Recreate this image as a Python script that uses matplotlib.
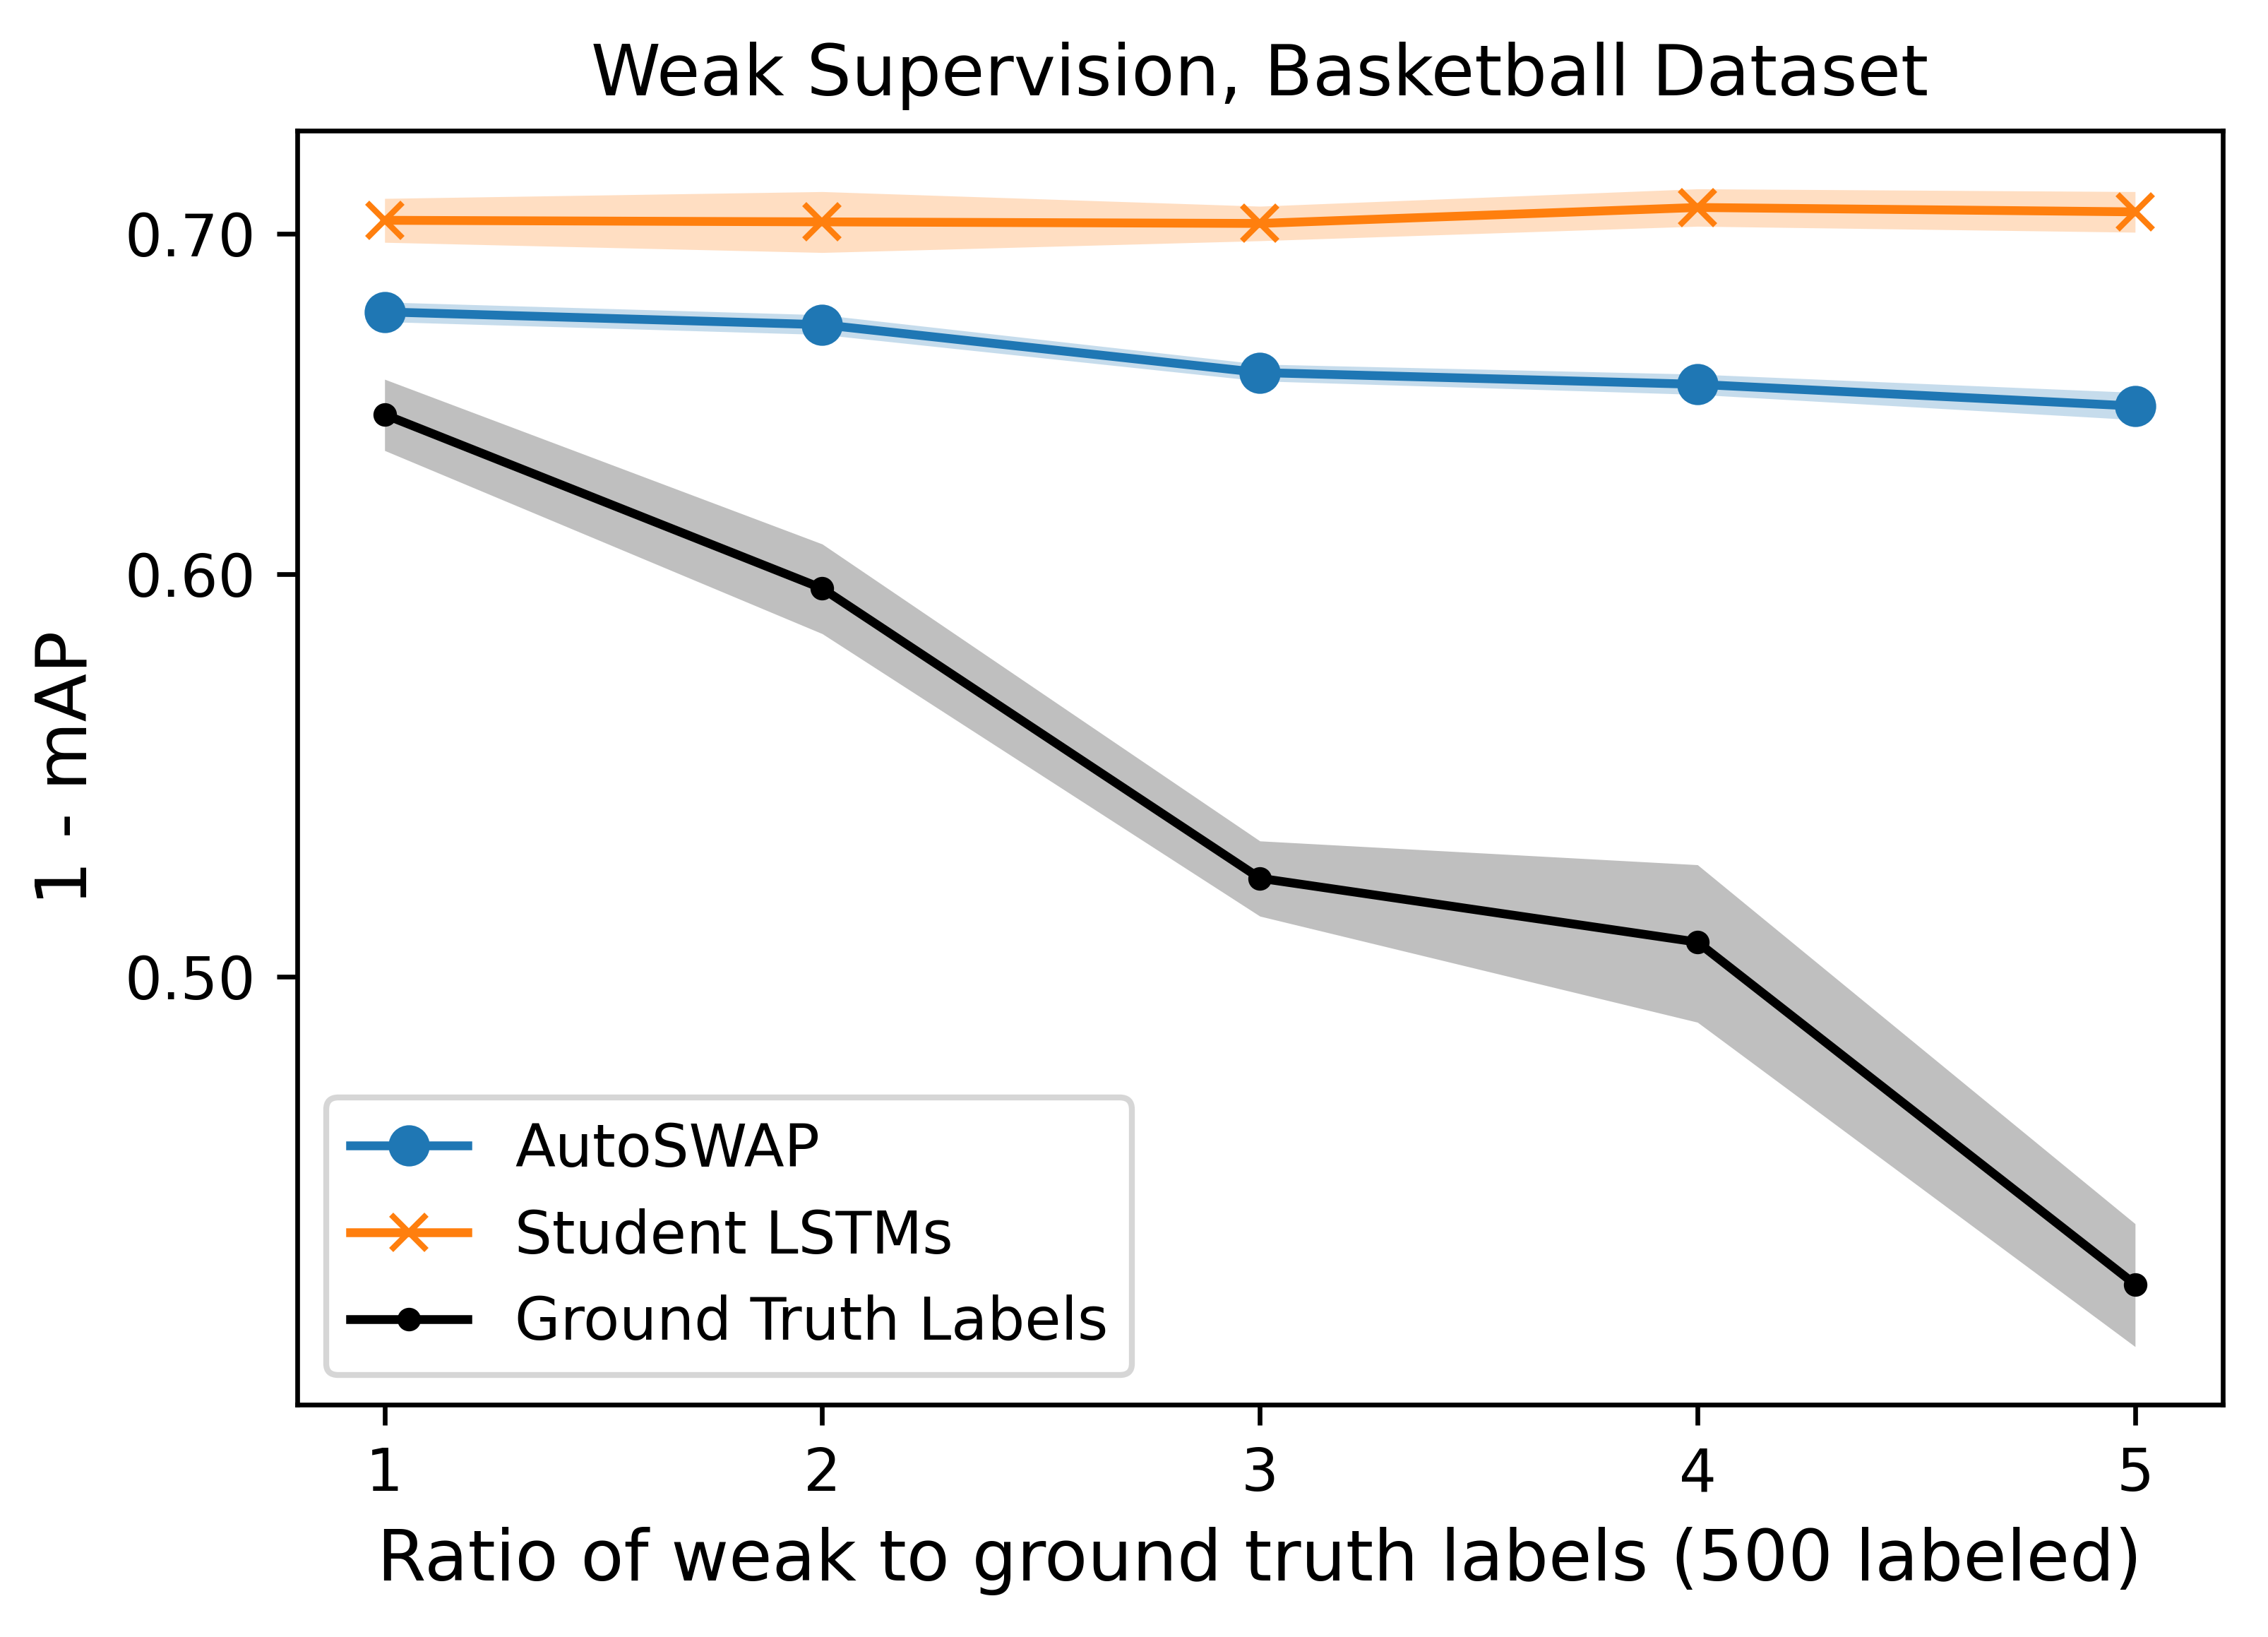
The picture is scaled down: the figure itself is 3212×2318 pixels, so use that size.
import matplotlib
matplotlib.use("Agg")
import matplotlib.pyplot as plt
import matplotlib.ticker as mticker
import numpy as np

# Ratio of weak to ground truth labels
ratios = [1, 2, 3, 4, 5]

# 1 - mAP, mean and std per method
autoswap_mean = [0.6756, 0.6717, 0.6573, 0.6538, 0.6474]
autoswap_std = [0.0030, 0.0030, 0.0025, 0.0030, 0.0040]

student_mean = [0.7042, 0.7037, 0.7032, 0.7083, 0.7069]
student_std = [0.0070, 0.0097, 0.0055, 0.0060, 0.0065]

gt_mean = [0.6449, 0.5961, 0.5228, 0.5079, 0.4350]
gt_std = [0.0104, 0.0121, 0.0089, 0.0181, 0.0121]

ytick_values = [0.5, 0.6, 0.7]

fig = plt.figure(figsize=(3212 / 600, 2318 / 600), dpi=600)
ax = fig.add_axes([0.131, 0.142, 0.849, 0.778])

x = np.array(ratios)

ax.plot(x, autoswap_mean, marker='o', color='C0', label='AutoSWAP')
ax.fill_between(x, np.array(autoswap_mean) - autoswap_std,
                np.array(autoswap_mean) + autoswap_std, color='C0', alpha=0.25, linewidth=0)

ax.plot(x, student_mean, marker='x', color='C1', label='Student LSTMs')
ax.fill_between(x, np.array(student_mean) - student_std,
                np.array(student_mean) + student_std, color='C1', alpha=0.25, linewidth=0)

ax.plot(x, gt_mean, marker='.', color='black', label='Ground Truth Labels')
ax.fill_between(x, np.array(gt_mean) - gt_std,
                np.array(gt_mean) + gt_std, color='black', alpha=0.25, linewidth=0)

# log y axis, but only three plain labels
ax.set_yscale('log')
ax.yaxis.set_major_locator(mticker.FixedLocator(ytick_values))
ax.yaxis.set_major_formatter(mticker.FormatStrFormatter('%.2f'))
ax.yaxis.set_minor_locator(mticker.NullLocator())
ax.set_xticks(ratios)

ax.set_title('Weak Supervision, Basketball Dataset', fontsize=12)
ax.set_xlabel('Ratio of weak to ground truth labels (500 labeled)', fontsize=12)
ax.set_ylabel('1 - mAP', fontsize=12)
ax.legend(loc='lower left')

fig.savefig('out.png', dpi=600)
